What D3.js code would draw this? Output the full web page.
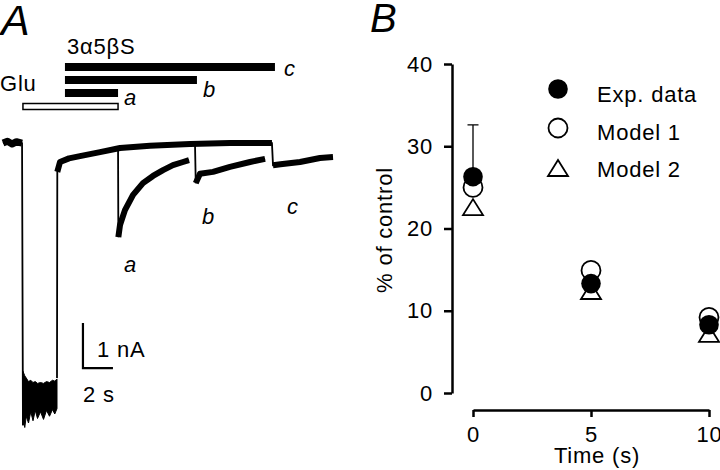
<!DOCTYPE html>
<html><head><meta charset="utf-8">
<script src="https://cdn.jsdelivr.net/npm/d3@7"></script>
<style>
body{margin:0;background:#fff}
svg{display:block}
text{font-family:"Liberation Sans",Arial,Helvetica,sans-serif;fill:#000}
</style></head><body>
<svg id="chart" width="720" height="470"></svg>
<script>
// ---------- Panel B data ----------
const times = [0, 5, 10];
const expData = [26.3, 13.3, 8.3];
const expErrTop = [32.6, null, null];
const model1 = [25.0, 14.9, 9.2];
const model2 = [22.6, 12.4, 7.2];
const yTicks = [0, 10, 20, 30, 40];
const xTicks = [0, 5, 10];
const legendLabels = ["Exp. data", "Model 1", "Model 2"];
const xTitle = "Time (s)";
const yTitle = "% of control";

// ---------- Panel A data (time in s, current in nA) ----------
const tracePre = [[0,0.02],[0.3,0.06],[0.6,0.0],[0.9,0.05],[1.27,0.02],[1.33,-6.25]];
// Glu response plateau: [t, upper edge, lower edge]
const gluBand = [[1.33,-5.05,-6.05],[1.45,-5.15,-6.3],[1.55,-5.2,-6.05],[1.7,-5.28,-6.2],[1.85,-5.25,-5.95],
  [2.0,-5.3,-6.15],[2.15,-5.28,-5.92],[2.3,-5.32,-6.1],[2.5,-5.3,-5.95],[2.7,-5.32,-6.12],
  [2.9,-5.28,-5.92],[3.1,-5.3,-6.05],[3.3,-5.25,-5.9],[3.45,-5.27,-6.0],[3.6,-5.22,-5.88]];
const traceMain = [[3.6,-5.2],[3.62,-0.62],[3.8,-0.4],[4.4,-0.32],[5.13,-0.27],[6.47,-0.18],[7.8,-0.09],
  [9.8,-0.04],[12.47,0.0],[15.13,0.02],[17.93,0.02],[18.0,-0.47],[18.5,-0.45],[19.8,-0.4],[21.13,-0.31],[22.0,-0.29]];
const traceA = [[7.67,-0.08],[7.69,-2.07],[7.8,-1.8],[8.13,-1.47],[8.67,-1.13],[9.33,-0.87],[10.0,-0.71],
  [10.67,-0.58],[11.33,-0.47],[12.0,-0.4],[12.4,-0.36]];
const traceB = [[12.8,0.0],[12.85,-0.87],[13.13,-0.66],[14.0,-0.62],[15.13,-0.51],[16.47,-0.4],[17.47,-0.33]];
const gluPulse = [1.33, 7.67];
const steroidStart = 4.13;
const steroidEnds = [7.67, 12.93, 18.13];
const pulseLabels = ["a", "b", "c"];
const drugName = "3α5βS";
const gluName = "Glu";
const scaleBarNA = 1, scaleBarS = 2;
const scaleBarOrigin = [5.33, -4.98];

// ---------- drawing ----------
const svg = d3.select("#chart");
svg.append("rect").attr("width",720).attr("height",470).attr("fill","#fff");
const FS = 22, LS = "0.8px";

function txt(g, s, x, y, opts={}) {
  const t = g.append("text").attr("x",x).attr("y",y).attr("font-size",opts.fs||FS)
    .attr("letter-spacing", opts.ls||LS).text(s);
  if (opts.italic) t.attr("font-style","italic");
  if (opts.anchor) t.attr("text-anchor",opts.anchor);
  if (opts.transform) t.attr("transform",opts.transform);
  return t;
}

// Panel letters
txt(svg,"A",1,35,{fs:43,italic:true,ls:"0px"});
txt(svg,"B",370,32,{fs:40,italic:true,ls:"0px"});

// ----- Panel A -----
const xA = d3.scaleLinear().domain([0,22]).range([3,333]);
const yA = d3.scaleLinear().domain([0,-6.5]).range([144,436.5]);
const gA = svg.append("g");

// application bars
const barRowY = i => 89 - 13*i;
steroidEnds.forEach((e,i)=>{
  gA.append("rect").attr("x",xA(steroidStart)).attr("y",barRowY(i))
    .attr("width",xA(e)-xA(steroidStart)).attr("height",8).attr("fill","#000");
});
const barLabelY = [105, 97, 76];
pulseLabels.forEach((l,i)=> txt(gA,l,xA(steroidEnds[i])+(i===2?9:6),barLabelY[i],{italic:true,ls:"0px"}));
gA.append("rect").attr("x",xA(gluPulse[0])).attr("y",103.5)
  .attr("width",xA(gluPulse[1])-xA(gluPulse[0])).attr("height",6)
  .attr("fill","#fff").attr("stroke","#000").attr("stroke-width",1.5);
txt(gA,drugName,67,54);
txt(gA,gluName,0,91);

// traces
const line = d3.line().x(d=>xA(d[0])).y(d=>yA(d[1]));
function runs(pts){
  const out=[]; let cur=[pts[0]];
  for(let i=1;i<pts.length;i++){
    const s=Math.abs((pts[i][1]-pts[i-1][1])/(pts[i][0]-pts[i-1][0]));
    if(s<5){cur.push(pts[i]);} else { if(cur.length>1) out.push(cur); cur=[pts[i]]; }
  }
  if(cur.length>1) out.push(cur);
  return out;
}
[tracePre, traceMain, traceA, traceB].forEach((tr,k)=>{
  gA.append("path").attr("d",line(tr)).attr("fill","none").attr("stroke","#000").attr("stroke-width",1.8);
  runs(tr).forEach(r=>gA.append("path").attr("d",line(r)).attr("fill","none").attr("stroke","#000")
    .attr("stroke-width",k===0?7:6).attr("stroke-linejoin","round").attr("stroke-linecap","butt"));
});
// glu plateau band
const area = d3.area().x(d=>xA(d[0])).y0(d=>yA(d[1])).y1(d=>yA(d[2]));
gA.append("path").attr("d",area(gluBand)).attr("fill","#000").attr("stroke","#000").attr("stroke-width",1);
gA.append("path").attr("d",line([[gluBand[0][0],tracePre[tracePre.length-1][1]],[gluBand[0][0],gluBand[0][2]]]))
  .attr("stroke","#000").attr("stroke-width",1.8).attr("fill","none");

// trace labels
txt(gA,"a",124,272,{italic:true,ls:"0px"});
txt(gA,"b",202,224,{italic:true,ls:"0px"});
txt(gA,"c",287,214,{italic:true,ls:"0px"});

// scale bar
const [sx,sy]=scaleBarOrigin;
gA.append("path").attr("d",`M${xA(sx)},${yA(sy+scaleBarNA)}V${yA(sy)}H${xA(sx+scaleBarS)}`)
  .attr("fill","none").attr("stroke","#000").attr("stroke-width",2.2);
txt(gA,scaleBarNA+" nA",97,357);
txt(gA,scaleBarS+" s",83,402);

// ----- Panel B -----
const xB = d3.scaleLinear().domain([0,10]).range([473,709]);
const yB = d3.scaleLinear().domain([0,40]).range([393,64]);

const gy = svg.append("g").attr("transform","translate(452,0)")
  .call(d3.axisLeft(yB).tickValues(yTicks).tickSize(8).tickSizeOuter(0).tickPadding(11).tickFormat(d3.format("d")));
const gx = svg.append("g").attr("transform","translate(0,410)")
  .call(d3.axisBottom(xB).tickValues(xTicks).tickSize(7).tickSizeOuter(0).tickPadding(9).tickFormat(d3.format("d")));
[gy,gx].forEach(g=>{
  g.attr("font-family",null).attr("font-size",null);
  g.select(".domain").attr("stroke-width",2.5);
  g.selectAll(".tick line").attr("stroke-width",2.5);
  g.selectAll(".tick text").attr("font-size",FS).attr("letter-spacing",LS).attr("fill","#000");
});
txt(svg,xTitle,597,463,{anchor:"middle"});
txt(svg,yTitle,0,0,{anchor:"middle",transform:"translate(392,230) rotate(-90)"});

const gB = svg.append("g");
const tri = "M0,-8L10,8L-10,8Z";
// error bars
times.forEach((t,i)=>{
  if(expErrTop[i]==null) return;
  gB.append("path").attr("d",`M${xB(t)},${yB(expData[i])}V${yB(expErrTop[i])}M${xB(t)-5.5},${yB(expErrTop[i])}H${xB(t)+5.5}`)
    .attr("stroke","#000").attr("stroke-width",1.3).attr("fill","none");
});
gB.selectAll(".m2").data(times.map((t,i)=>[t,model2[i]])).enter().append("path")
  .attr("d",tri).attr("transform",d=>`translate(${xB(d[0])},${yB(d[1])})`)
  .attr("fill","#fff").attr("stroke","#000").attr("stroke-width",1.8);
gB.selectAll(".m1").data(times.map((t,i)=>[t,model1[i]])).enter().append("circle")
  .attr("cx",d=>xB(d[0])).attr("cy",d=>yB(d[1])).attr("r",9.5)
  .attr("fill","#fff").attr("stroke","#000").attr("stroke-width",1.8);
gB.selectAll(".ex").data(times.map((t,i)=>[t,expData[i]])).enter().append("circle")
  .attr("cx",d=>xB(d[0])).attr("cy",d=>yB(d[1])).attr("r",9.8).attr("fill","#000");

// legend
const lg = svg.append("g");
legendLabels.forEach((l,i)=>{
  const c = 94.5 + 37.5*i;
  if(i===0) lg.append("circle").attr("cx",558).attr("cy",c-5.5).attr("r",9.8).attr("fill","#000");
  if(i===1) lg.append("circle").attr("cx",558).attr("cy",c-4).attr("r",9.5).attr("fill","#fff").attr("stroke","#000").attr("stroke-width",1.8);
  if(i===2) lg.append("path").attr("d",tri).attr("transform",`translate(558,${c-1.5})`).attr("fill","#fff").attr("stroke","#000").attr("stroke-width",1.8);
  txt(lg,l,597,c+7.9);
});
</script>
</body></html>
